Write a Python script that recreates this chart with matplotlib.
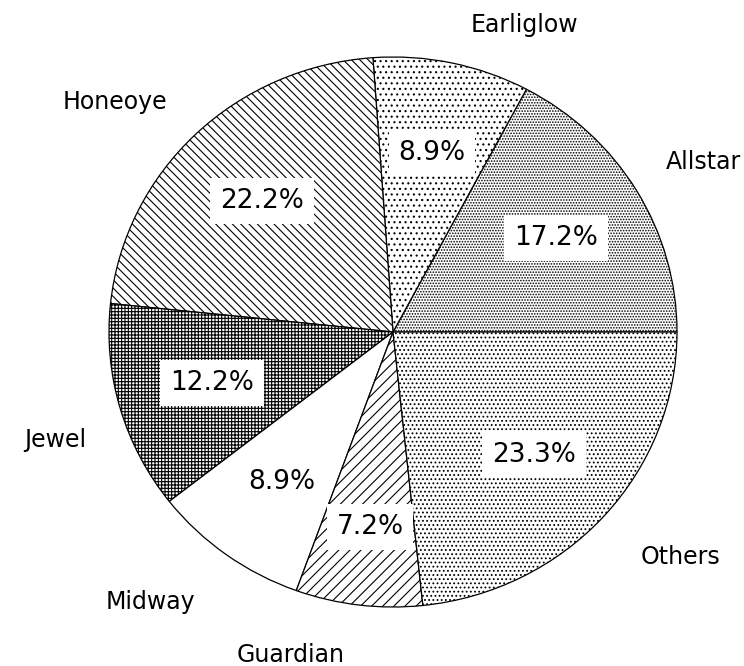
import matplotlib.pyplot as plt

# cultivar share data
cultivars = ["Allstar", "Earliglow", "Honeoye", "Jewel", "Midway", "Guardian", "Others"]
shares = [17.2, 8.9, 22.2, 12.2, 8.9, 7.2, 23.3]
pct_labels = ["17.2%", "8.9%", "22.2%", "12.2%", "8.9%", "7.2%", "23.3%"]
hatches = ["......", "...", "\\\\\\\\", "+++++", "", "///", "...."]

plt.rcParams["font.family"] = ["DejaVu Sans"]
plt.rcParams["hatch.linewidth"] = 0.8

W, H = 744, 666
fig = plt.figure(figsize=(W / 100, H / 100), dpi=100)

# pie area in pixels (slightly wider than tall, as in the scan)
left, right, top, bottom = 109, 677, 57, 607
ax = fig.add_axes([left / W, 1 - bottom / H, (right - left) / W, (bottom - top) / H])

wedges, _ = ax.pie(shares, startangle=0, counterclock=True, radius=1,
                   colors=["white"] * len(shares),
                   wedgeprops=dict(edgecolor="black", linewidth=0.9))
for w, h in zip(wedges, hatches):
    w.set_hatch(h)
ax.set_xlim(-1.0, 1.0)
ax.set_ylim(-1.0, 1.0)
ax.set_aspect("auto")
ax.axis("off")

# percent labels (pixel positions)
pct_pos = [(556, 238), (432, 153), (262, 201), (212, 383), (282, 482), (370, 527), (534, 455)]
for (x, y), t, h in zip(pct_pos, pct_labels, hatches):
    box = dict(facecolor="white", edgecolor="none", pad=7) if h else None
    fig.text(x / W, 1 - y / H, t, fontsize=19, ha="center", va="center", bbox=box)

# cultivar names
name_pos = [(703, 162), (524, 25), (115, 102), (55, 440), (150, 602), (291, 655), (680, 557)]
for (x, y), t in zip(name_pos, cultivars):
    fig.text(x / W, 1 - y / H, t, fontsize=17, ha="center", va="center")

fig.savefig("out.png", dpi=100)
